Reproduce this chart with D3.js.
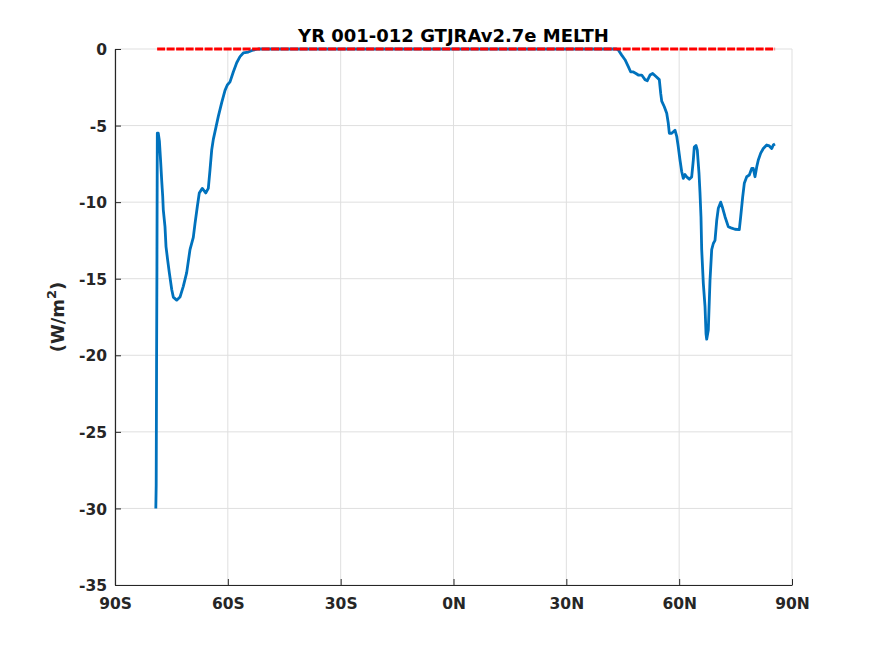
<!DOCTYPE html>
<html>
<head>
<meta charset="utf-8">
<script src="https://cdn.jsdelivr.net/npm/d3@7"></script>
<style>
  body { margin: 0; background: #fff; }
  text { font-family: "DejaVu Sans", sans-serif; font-weight: bold; }
</style>
</head>
<body>
<div id="chart"></div>
<script>
// latitude (deg) and zonal mean MELTH (W/m2)
const lats = [
  -79.15, -79.05, -78.95, -78.85, -78.75, -78.5, -78.2, -77.85, -77.58, -77.32,
  -77.16, -76.71, -76.44, -75.99, -75.56, -74.92, -74.5, -73.6, -72.72, -71.84,
  -70.94, -70.06, -69.18, -68.73, -68.12, -67.59, -66.79, -65.88, -65.19, -64.74,
  -64.29, -63.86, -63.15, -62.53, -61.63, -60.75, -60.14, -59.42, -58.55, -57.64,
  -56.77, -55.89, -54.56, -53.23, -51.9, -40, -20, 0, 20, 40, 43.3,
  43.82, 44.72, 45.6, 46.48, 47.12, 47.81, 48.52, 49.13, 50.04, 50.92,
  51.53, 52.25, 52.96, 53.84, 54.72, 55.09, 55.36, 56.05, 56.69, 57.11,
  57.38, 58.02, 58.89, 59.35, 59.77, 60.22, 60.67, 61.1, 61.55, 62.0,
  62.69, 63.33, 63.76, 64.02, 64.47, 64.82, 65.27, 65.54, 65.8, 65.99,
  66.42, 66.87, 67.14, 67.32, 67.75, 68.2, 68.65, 69.08, 69.53, 69.98,
  70.41, 71.04, 71.58, 72.19, 73.06, 73.97, 74.84, 75.99, 76.36, 76.89,
  77.32, 77.96, 78.65, 79.29, 79.71, 80.16, 80.62, 81.04, 81.68, 82.37,
  83.27, 83.96, 84.6, 85.03, 85.48
];
const melth = [
  -30.0, -28.5, -20.8, -14.2, -5.5, -5.5, -6.0, -7.4, -8.6, -9.6,
  -10.5, -11.6, -12.9, -13.8, -14.6, -15.7, -16.2, -16.4, -16.2, -15.5,
  -14.6, -13.1, -12.3, -11.4, -10.3, -9.4, -9.1, -9.4, -9.1, -7.9,
  -6.6, -5.9, -5.1, -4.4, -3.5, -2.7, -2.35, -2.15, -1.5, -0.9,
  -0.5, -0.26, -0.2, -0.07, 0, 0, 0, 0, 0, 0, 0,
  -0.07, -0.4, -0.7, -1.15, -1.5, -1.5, -1.6, -1.7, -1.7, -2.0,
  -2.07, -1.7, -1.6, -1.8, -2.0, -2.9, -3.4, -3.77, -4.2, -4.85,
  -5.5, -5.5, -5.3, -5.7, -6.4, -7.25, -8.0, -8.45, -8.2, -8.35,
  -8.5, -8.35, -7.25, -6.4, -6.3, -6.6, -8.1, -9.4, -10.95, -13.1,
  -15.3, -16.8, -18.6, -18.95, -18.35, -15.1, -13.1, -12.7, -12.5, -11.2,
  -10.4, -10.0, -10.4, -10.95, -11.6, -11.7, -11.77, -11.8, -10.95, -9.65,
  -8.77, -8.34, -8.23, -7.8, -7.8, -8.34, -7.7, -7.25, -6.8, -6.5,
  -6.27, -6.33, -6.5, -6.27, -6.2
];
// red dashed reference line
const refLats = [-78.8, 85.5];
const refVals = [0, 0];

const xTicks = [-90, -60, -30, 0, 30, 60, 90];
const xTickLabels = ["90S", "60S", "30S", "0N", "30N", "60N", "90N"];
const yTicks = [-35, -30, -25, -20, -15, -10, -5, 0];

const width = 875, height = 656;
const mLeft = 115, mRight = 792, mTop = 49, mBottom = 585;

const svg = d3.select("#chart").append("svg")
  .attr("width", width)
  .attr("height", height);

svg.append("rect").attr("width", width).attr("height", height).attr("fill", "#fff");

const x = d3.scaleLinear().domain([-90, 90]).range([mLeft, mRight]);
const y = d3.scaleLinear().domain([-35, 0]).range([mBottom, mTop]);

// grid
svg.append("g")
  .selectAll("line")
  .data(xTicks)
  .enter()
  .append("line")
  .attr("x1", d => x(d)).attr("x2", d => x(d))
  .attr("y1", mTop).attr("y2", mBottom)
  .attr("stroke", "#dfdfdf").attr("stroke-width", 1);

svg.append("g")
  .selectAll("line")
  .data(yTicks)
  .enter()
  .append("line")
  .attr("x1", mLeft).attr("x2", mRight)
  .attr("y1", d => y(d)).attr("y2", d => y(d))
  .attr("stroke", "#dfdfdf").attr("stroke-width", 1);

// axes
const xAxis = d3.axisBottom(x)
  .tickValues(xTicks)
  .tickFormat((d, i) => xTickLabels[i])
  .tickSizeInner(-6)
  .tickSizeOuter(0)
  .tickPadding(13);

const yAxis = d3.axisLeft(y)
  .tickValues(yTicks)
  .tickFormat(d => String(d))
  .tickSizeInner(-6)
  .tickSizeOuter(0)
  .tickPadding(8);

const gx = svg.append("g")
  .attr("transform", "translate(0," + mBottom + ")")
  .call(xAxis);
const gy = svg.append("g")
  .attr("transform", "translate(" + mLeft + ",0)")
  .call(yAxis);

[gx, gy].forEach(g => {
  g.select(".domain").attr("stroke", "#262626").attr("stroke-width", 1.2);
  g.selectAll(".tick line").attr("stroke", "#262626");
  g.selectAll(".tick text")
    .attr("fill", "#262626")
    .style("font-size", "15.5px")
    .style("font-family", "DejaVu Sans")
    .style("font-weight", "bold");
});
gy.selectAll(".tick text").attr("dy", "0.36em");

// data line
const line = d3.line()
  .x(d => x(d[0]))
  .y(d => y(d[1]));

svg.append("path")
  .datum(d3.zip(lats, melth))
  .attr("d", line)
  .attr("fill", "none")
  .attr("stroke", "#0072bd")
  .attr("stroke-width", 2.8)
  .attr("stroke-linejoin", "round");

svg.append("path")
  .datum(d3.zip(refLats, refVals))
  .attr("d", line)
  .attr("fill", "none")
  .attr("stroke", "#ff0000")
  .attr("stroke-width", 3)
  .attr("stroke-dasharray", "8,1.5");

// title
svg.append("text")
  .attr("x", (mLeft + mRight) / 2)
  .attr("y", 42)
  .attr("text-anchor", "middle")
  .attr("fill", "#000")
  .style("font-size", "18px")
  .text("YR 001-012 GTJRAv2.7e MELTH");

// y label
const yl = svg.append("text")
  .attr("transform", "translate(64," + (mTop + mBottom) / 2 + ") rotate(-90)")
  .attr("text-anchor", "middle")
  .attr("fill", "#262626")
  .style("font-size", "18px");
yl.append("tspan").text("(W/m");
yl.append("tspan").attr("dy", "-8").style("font-size", "13px").text("2");
yl.append("tspan").attr("dy", "8").text(")");
</script>
</body>
</html>
